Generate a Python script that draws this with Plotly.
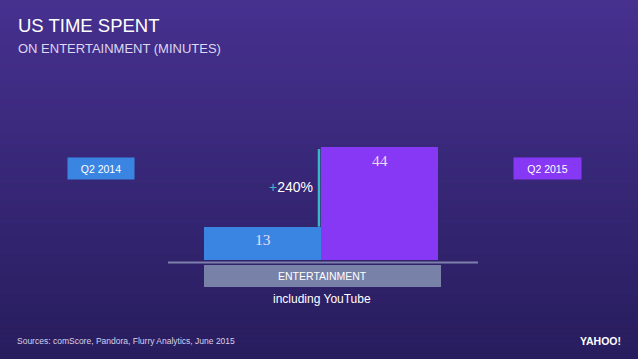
import plotly.graph_objects as go

# ---- data ----
periods = ["Q2 2014", "Q2 2015"]
minutes = [13, 44]
growth_label = "240%"
category_label = "ENTERTAINMENT"
note_label = "including YouTube"
title_text = "US TIME SPENT"
subtitle_text = "ON ENTERTAINMENT (MINUTES)"
source_text = "Sources: comScore, Pandora, Flurry Analytics, June 2015"
logo_text = "YAHOO!"

# ---- styles ----
W, H = 638, 359
bar_colors = ["#3a85e2", "#8638f5"]
bg_top = (70, 49, 143)
bg_bot = (40, 29, 94)
teal = "#3ab7c9"
grey_box = "#7882a8"
sans = "Liberation Sans, Arial, sans-serif"
serif = "Liberation Serif, Times New Roman, serif"

xs = list(range(len(periods)))

fig = go.Figure()
fig.add_trace(go.Bar(
    x=xs, y=minutes, width=1.0,
    marker=dict(color=bar_colors, line=dict(width=0)),
    hoverinfo="skip", showlegend=False,
))

# pixel mapping: bar width 117 px, first bar centre at 262.5 px, baseline at 260 px
px_per_x = 117.0
x0_px = 262.5
px_per_y = 113.0 / 44.0
base_px = 260.0
x_range = [-x0_px / px_per_x, (W - x0_px) / px_per_x]
y_range = [-(H - base_px) / px_per_y, base_px / px_per_y]

shapes = []
# gradient background (overlapping bands to avoid seams)
n = 72
for i in range(n):
    t = i / (n - 1)
    c = tuple(int(round(bg_top[k] + (bg_bot[k] - bg_top[k]) * t)) for k in range(3))
    shapes.append(dict(type="rect", xref="paper", yref="paper",
                       x0=-0.01, x1=1.01, y0=1 - i / n + 0.002, y1=max(-0.01, 1 - (i + 1) / n - 0.006),
                       fillcolor="rgb(%d,%d,%d)" % c, line=dict(width=0), layer="below"))

def px(xp):
    return xp / W

def py(yp):
    return 1 - yp / H

# baseline
shapes.append(dict(type="line", xref="paper", yref="paper",
                   x0=px(168), x1=px(478), y0=py(262.5), y1=py(262.5),
                   line=dict(color="#7c80aa", width=2)))
# category box
shapes.append(dict(type="rect", xref="paper", yref="paper",
                   x0=px(204), x1=px(441), y0=py(265), y1=py(287),
                   fillcolor=grey_box, line=dict(width=0)))
# growth line between the bars
gx = 0.5 - 2.0 / px_per_x
shapes.append(dict(type="line", xref="x", yref="y",
                   x0=gx, x1=gx, y0=minutes[0], y1=minutes[1] - 0.8,
                   line=dict(color=teal, width=2.5)))

annotations = []
annotations.append(dict(text=title_text, xref="paper", yref="paper", x=px(16), y=py(25),
                        xanchor="left", yanchor="middle", showarrow=False,
                        font=dict(family=sans, size=18.5, color="#ffffff")))
annotations.append(dict(text=subtitle_text, xref="paper", yref="paper", x=px(16), y=py(48.5),
                        xanchor="left", yanchor="middle", showarrow=False,
                        font=dict(family=sans, size=13, color="#ddd7f0")))
# value labels
for xi, v in zip(xs, minutes):
    annotations.append(dict(text=str(v), x=xi, y=v, xref="x", yref="y",
                            xanchor="center", yanchor="middle", yshift=-13, showarrow=False,
                            font=dict(family=serif, size=15.5, color="#e4ddf5")))
# growth label
annotations.append(dict(text='<span style="color:%s">+</span>%s' % (teal, growth_label),
                        x=0.5 - 6 / px_per_x, y=(minutes[0] + minutes[1]) / 2, xref="x", yref="y",
                        xanchor="right", yanchor="middle", showarrow=False,
                        font=dict(family=sans, size=14, color="#ffffff")))
# period boxes
box_pos = [(101, 66), (547.5, 67)]
for (cx, bw), lab, col in zip(box_pos, periods, bar_colors):
    annotations.append(dict(text=lab, xref="paper", yref="paper", x=px(cx), y=py(168.5),
                            xanchor="center", yanchor="middle", showarrow=False,
                            width=bw, height=21, bgcolor=col, borderpad=0,
                            font=dict(family=sans, size=10.5, color="#ffffff")))
annotations.append(dict(text=category_label, xref="paper", yref="paper", x=px(322.5), y=py(276),
                        xanchor="center", yanchor="middle", showarrow=False,
                        font=dict(family=sans, size=10.5, color="#ffffff")))
annotations.append(dict(text=note_label, xref="paper", yref="paper", x=px(322), y=py(299),
                        xanchor="center", yanchor="middle", showarrow=False,
                        font=dict(family=sans, size=12, color="#ffffff")))
annotations.append(dict(text=source_text, xref="paper", yref="paper", x=px(15), y=py(340.5),
                        xanchor="left", yanchor="middle", showarrow=False,
                        font=dict(family=sans, size=8.5, color="#d6d2ea")))
annotations.append(dict(text="<b>%s</b>" % logo_text, xref="paper", yref="paper", x=px(600), y=py(340.5),
                        xanchor="center", yanchor="middle", showarrow=False,
                        font=dict(family=sans, size=10.5, color="#ffffff")))

fig.update_layout(
    width=W, height=H,
    margin=dict(l=0, r=0, t=0, b=0),
    paper_bgcolor="rgb(%d,%d,%d)" % bg_bot,
    plot_bgcolor="rgba(0,0,0,0)",
    xaxis=dict(range=x_range, visible=False, fixedrange=True),
    yaxis=dict(range=y_range, visible=False, fixedrange=True),
    shapes=shapes, annotations=annotations,
    bargap=0,
)

fig.write_html("out.html", config={"displayModeBar": False},
               post_script="document.body.style.margin='0';document.body.style.overflow='hidden';")
